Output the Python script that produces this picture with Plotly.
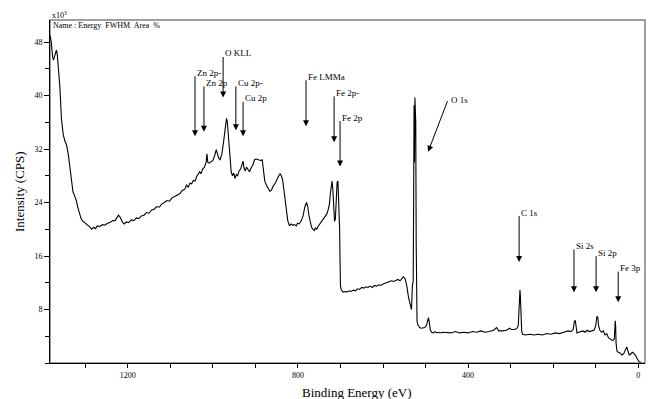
import plotly.graph_objects as go

# Binding energy (eV) and intensity (x10^3 CPS)
energy = [1383, 1380, 1377, 1375, 1372, 1368, 1366, 1364, 1360, 1356, 1352, 1348, 1344, 1340, 1336, 1332,
          1329, 1325, 1321, 1318, 1314, 1310, 1306, 1302, 1298, 1294, 1290, 1285, 1280, 1276, 1272, 1266,
          1260, 1254, 1248, 1242, 1236, 1230, 1226, 1222, 1219, 1215, 1212, 1208, 1204, 1198, 1192, 1186,
          1180, 1174, 1168, 1162, 1156, 1150, 1144, 1138, 1132, 1126, 1120, 1114, 1108, 1102, 1096, 1090,
          1084, 1078, 1072, 1066, 1062, 1058, 1054, 1050, 1046, 1042, 1038, 1034, 1031, 1028, 1024, 1020,
          1016, 1014, 1012, 1009, 1005, 1000, 996, 992, 989, 986, 983, 979, 975, 971, 968, 966,
          963, 960, 957, 954, 951, 948, 945, 942, 938, 935, 932, 929, 927, 924, 921, 918,
          914, 910, 906, 902, 898, 893, 888, 884, 881, 878, 874, 870, 866, 862, 858, 854,
          850, 846, 842, 839, 836, 833, 830, 827, 824, 820, 816, 812, 808, 804, 801, 797,
          792, 788, 784, 780, 777, 774, 771, 768, 765, 762, 759, 756, 752, 748, 744, 740,
          736, 732, 729, 726, 724, 722, 720, 718, 716, 714, 712, 710, 708, 706, 704, 702,
          701, 700, 698, 694, 690, 685, 680, 675, 670, 665, 660, 655, 650, 645, 640, 635,
          630, 625, 620, 615, 610, 605, 600, 595, 590, 585, 580, 575, 570, 565, 560, 556,
          552, 548, 544, 540, 536, 533, 531, 529, 528, 527, 526, 525, 523, 522, 521, 520,
          518, 514, 510, 506, 502, 498, 495, 493, 491, 489, 486, 482, 478, 474, 470, 466,
          460, 450, 440, 430, 420, 410, 400, 390, 380, 370, 360, 350, 340, 333, 328, 320,
          310, 302, 298, 292, 286, 282, 280, 278, 277, 276, 274, 272, 265, 255, 245, 235,
          225, 215, 205, 195, 185, 175, 165, 158, 153, 150, 148, 146, 144, 140, 135, 130,
          125, 120, 115, 110, 104, 100, 97, 95, 93, 90, 86, 82, 78, 74, 70, 66,
          62, 58, 56, 54, 53, 52, 50, 47, 43, 38, 34, 30, 27, 24, 21, 18,
          14, 11, 8, 5, 2, -2, -6]
intensity = [49.0, 48.0, 45.9, 45.3, 45.9, 46.8, 46.2, 44.8, 41.5, 36.5, 34.2, 33.2, 32.6, 31.2, 29.0, 26.8,
             25.6, 25.0, 24.3, 23.4, 22.3, 21.6, 21.2, 21.0, 20.9, 20.6, 20.4, 20.0, 20.3, 20.1, 20.5, 20.4,
             20.7, 20.6, 20.9, 21.0, 21.3, 21.3, 21.8, 22.1, 21.9, 21.4, 21.0, 20.8, 21.1, 21.0, 21.4, 21.3,
             21.7, 21.6, 22.0, 22.1, 22.5, 22.4, 22.9, 23.0, 23.4, 23.3, 23.8, 24.0, 24.3, 24.2, 24.7, 24.9,
             25.1, 25.3, 25.8, 26.0, 26.6, 26.3, 26.9, 26.8, 27.3, 27.2, 27.9, 28.2, 28.6, 28.3, 29.0, 29.3,
             30.0, 31.3, 30.0, 29.9, 30.1, 30.3, 31.0, 31.9, 31.2, 30.6, 30.4, 31.2, 33.0, 35.2, 36.6, 36.0,
             33.5, 30.5, 28.6, 28.0, 28.4, 27.6, 28.2, 28.0, 28.8, 29.0, 29.8, 30.2, 29.2, 28.7, 29.3, 28.9,
             28.6, 29.2, 29.6, 30.4, 30.5, 30.4, 30.3, 30.4, 29.0, 27.2, 26.6, 26.2, 25.7, 25.9, 26.5, 26.8,
             27.4, 27.9, 28.3, 28.0, 27.4, 25.7, 24.0, 22.5, 21.3, 20.5, 20.8, 20.6, 20.7, 20.5, 20.9, 20.8,
             21.3, 22.0, 23.3, 24.0, 23.4, 22.0, 21.0, 20.3, 20.0, 19.8, 20.2, 20.0, 20.5, 20.9, 21.2, 21.5,
             21.9, 22.3, 22.9, 23.8, 25.2, 26.3, 27.2, 26.0, 23.5, 21.2, 21.5, 24.0, 27.0, 27.2, 24.5, 20.0,
             15.0, 11.5, 10.9, 10.6, 10.7, 10.6, 10.8, 10.7, 10.9, 10.8, 11.1, 11.0, 11.3, 11.2, 11.4, 11.3,
             11.5, 11.3, 11.6, 11.5, 11.7, 11.6, 11.8, 11.9, 12.0, 12.1, 12.3, 12.2, 12.4, 12.5, 12.3, 12.7,
             12.9, 12.6, 11.5, 9.8, 8.5, 8.0, 11.5, 12.3, 24.0, 38.5, 30.0, 39.7, 36.0, 18.0, 7.0, 6.2,
             5.7, 5.3, 5.2, 5.3, 5.3, 5.6, 6.5, 6.8, 6.0, 5.0, 4.6, 4.5, 4.7, 4.5, 4.6, 4.5,
             4.6, 4.6, 4.5, 4.7, 4.5, 4.6, 4.5, 4.7, 4.6, 4.8, 4.6, 4.7, 4.9, 5.3, 4.8, 4.8,
             4.9, 5.2, 5.0, 5.0, 5.1, 5.6, 7.5, 10.9, 10.0, 7.0, 4.8, 4.3, 4.2, 4.3, 4.2, 4.3,
             4.2, 4.4, 4.3, 4.5, 4.4, 4.6, 4.8, 4.7, 5.0, 6.2, 6.4, 5.5, 4.5, 4.6, 4.7, 4.8,
             4.6, 4.9, 4.7, 4.8, 4.9, 5.5, 7.0, 6.8, 5.5, 4.9, 4.6, 4.8, 4.2, 4.4, 3.8, 3.6,
             3.4, 3.4, 3.7, 6.3, 5.5, 3.0, 1.8, 1.6, 1.5, 1.2, 1.4, 2.0, 2.4, 1.8, 1.2, 1.3,
             1.6, 1.5, 1.3, 1.0, 0.6, 0.2, 0.1]

# Peak labels: label text, arrow x (eV), arrow top and tip (x10^3 CPS)
peak_labels = ["Zn 2p-", "Zn 2p", "O KLL", "Cu 2p-", "Cu 2p", "Fe LMMa", "Fe 2p-", "Fe 2p",
               "C 1s", "Si 2s", "Si 2p", "Fe 3p"]
peak_x = [1042, 1021, 976, 946, 929, 781, 715, 701, 280, 151, 99, 47]
peak_top = [43.1, 41.6, 46.0, 41.6, 39.3, 42.5, 40.1, 36.4, 22.2, 17.2, 16.2, 13.9]
peak_tip = [33.9, 34.6, 39.7, 34.8, 33.9, 35.4, 33.0, 29.4, 15.1, 10.6, 10.6, 9.1]

# O 1s diagonal arrow (eV, value) start and tip
o1s_start = [447, 39.4]
o1s_tip = [494, 31.6]

y_ticks = [8, 16, 24, 32, 40, 48]
x_ticks = [1200, 800, 400, 0]

serif = "Liberation Serif, Times New Roman, serif"

fig = go.Figure()
fig.add_trace(go.Scatter(x=energy, y=intensity, mode="lines",
                         line=dict(color="black", width=1.1), showlegend=False,
                         hoverinfo="skip"))

ann = []
for lab, x, t, tip in zip(peak_labels, peak_x, peak_top, peak_tip):
    ann.append(dict(x=x, y=tip, ax=x, ay=t, xref="x", yref="y", axref="x", ayref="y",
                    text="", showarrow=True, arrowhead=2, arrowsize=1.2, arrowwidth=1,
                    arrowcolor="black", standoff=0))
    ann.append(dict(x=x, y=t, xref="x", yref="y", text=lab, showarrow=False,
                    xanchor="left", yanchor="bottom", xshift=0, yshift=-5,
                    font=dict(family=serif, size=9, color="black")))

ann.append(dict(x=o1s_tip[0], y=o1s_tip[1], ax=o1s_start[0], ay=o1s_start[1],
                xref="x", yref="y", axref="x", ayref="y", text="", showarrow=True,
                arrowhead=2, arrowsize=1.2, arrowwidth=1, arrowcolor="black", standoff=0))
ann.append(dict(x=o1s_start[0], y=o1s_start[1], xref="x", yref="y", text="O 1s",
                showarrow=False, xanchor="left", yanchor="middle", xshift=1,
                font=dict(family=serif, size=9, color="black")))

ann.append(dict(x=0, y=1, xref="paper", yref="paper", text="x10<sup>3</sup>", showarrow=False,
                xanchor="left", yanchor="bottom", yshift=-2,
                font=dict(family=serif, size=8, color="black")))
ann.append(dict(x=0, y=1, xref="paper", yref="paper", text="Name : Energy  FWHM  Area  %",
                showarrow=False, xanchor="left", yanchor="top", xshift=1, yshift=1,
                font=dict(family=serif, size=8, color="black")))
ann.append(dict(x=0.5, y=0, xref="paper", yref="paper", text="Binding Energy (eV)",
                showarrow=False, xanchor="center", yanchor="middle", xshift=9, yshift=-29,
                font=dict(family=serif, size=13, color="black")))
ann.append(dict(x=0, y=0.5, xref="paper", yref="paper", text="Intensity (CPS)",
                showarrow=False, xanchor="right", yanchor="middle", textangle=-90, xshift=-21,
                yshift=0, font=dict(family=serif, size=13, color="black")))

fig.update_layout(
    width=653, height=399,
    margin=dict(l=50, r=8, t=20, b=36),
    paper_bgcolor="white", plot_bgcolor="white",
    font=dict(family=serif),
    annotations=ann,
    shapes=[dict(type="rect", xref="paper", yref="paper", x0=0, y0=0, x1=1, y1=1,
                 line=dict(color="#808080", width=1.5), layer="below")],
    xaxis=dict(range=[1383, -16], tickvals=x_ticks, ticks="outside", ticklen=4,
               tickcolor="black", showgrid=False, zeroline=False, showline=True,
               linecolor="black", linewidth=1,
               tickfont=dict(family=serif, size=8, color="black"),
               minor=dict(dtick=100, tick0=0, ticks="outside", ticklen=4, tickcolor="black")),
    yaxis=dict(range=[0, 51.3], tickvals=y_ticks, ticks="outside", ticklen=5,
               tickcolor="black", showgrid=False, zeroline=False, showline=True,
               linecolor="black", linewidth=1,
               tickfont=dict(family=serif, size=8, color="black"),
               minor=dict(dtick=4, tick0=0, ticks="outside", ticklen=4, tickcolor="black")),
)

fig.write_html("out.html", config={"displayModeBar": False},
               post_script="document.body.style.margin='0';")
